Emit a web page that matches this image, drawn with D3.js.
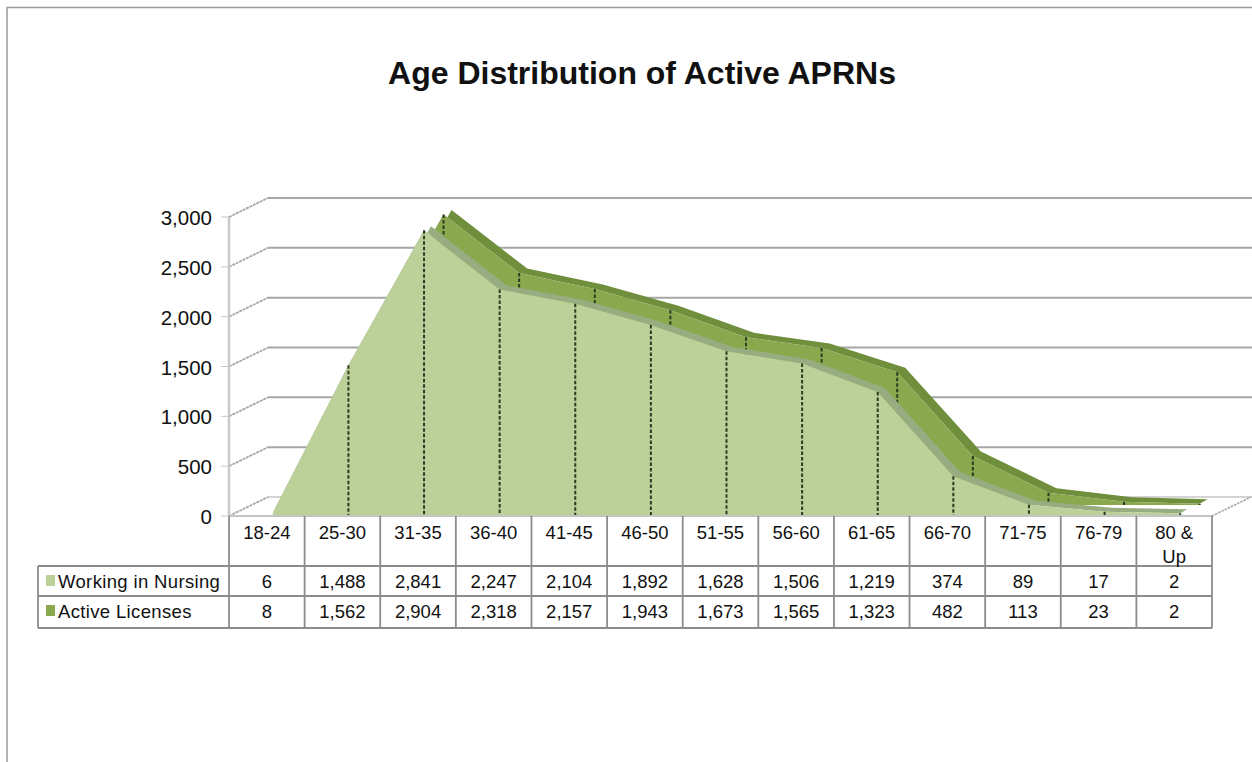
<!DOCTYPE html>
<html>
<head>
<meta charset="utf-8">
<script src="https://cdn.jsdelivr.net/npm/d3@7/dist/d3.min.js"></script>
<style>
html,body{margin:0;padding:0;background:#fff;overflow:hidden}
svg{display:block}
text{font-family:"Liberation Sans",Arial,sans-serif;fill:#111}
</style>
</head>
<body>
<svg id="chart" width="1252" height="762"></svg>
<script>
const categories = ["18-24","25-30","31-35","36-40","41-45","46-50","51-55","56-60","61-65","66-70","71-75","76-79","80 & Up"];
const working = [6,1488,2841,2247,2104,1892,1628,1506,1219,374,89,17,2];
const active = [8,1562,2904,2318,2157,1943,1673,1565,1323,482,113,23,2];
const yTicks = [0,500,1000,1500,2000,2500,3000];
const seriesNames = ["Working in Nursing","Active Licenses"];
const titleText = "Age Distribution of Active APRNs";

const svg = d3.select("#chart");
const gridColor = "#a6a6a6", tableColor = "#8c8c8c", wallColor = "#c8c8c8";
const left = 229, right = 1212, base = 516;
const wallDx = 39, wallDy = -19;

const x = d3.scaleBand().domain(categories).range([left, right]);
const y = d3.scaleLinear().domain([0, 3000]).range([base, 217]);
const cx = c => x(c) + x.bandwidth() / 2;

// frame
svg.append("path").attr("d", "M7,770V7.5H1260").attr("fill", "none").attr("stroke", "#9a9a9a").attr("stroke-width", 1.5);

// title
svg.append("text").attr("x", 642).attr("y", 84).attr("text-anchor", "middle")
  .attr("font-size", 32).attr("font-weight", "bold").text(titleText);

// back wall gridlines and side wall diagonals
yTicks.forEach(t => {
  const yy = y(t);
  svg.append("line").attr("x1", left + wallDx).attr("x2", 1252).attr("y1", yy + wallDy).attr("y2", yy + wallDy)
    .attr("stroke", t === 0 ? "#d4d4d4" : gridColor).attr("stroke-width", 2);
  svg.append("line").attr("x1", left).attr("x2", left + wallDx).attr("y1", yy).attr("y2", yy + wallDy)
    .attr("stroke", gridColor).attr("stroke-width", 1.8).attr("stroke-dasharray", "3,0.8");
  svg.append("line").attr("x1", left - 8).attr("x2", left).attr("y1", yy).attr("y2", yy)
    .attr("stroke", wallColor).attr("stroke-width", 1);
  svg.append("text").attr("x", 212).attr("y", yy + 8).attr("text-anchor", "end")
    .attr("font-size", 20.5).text(d3.format(",")(t));
});
// side wall vertical edge
svg.append("line").attr("x1", left).attr("x2", left).attr("y1", y(3000)).attr("y2", base)
  .attr("stroke", wallColor).attr("stroke-width", 2.5);
// floor right edge
svg.append("line").attr("x1", right).attr("x2", right + wallDx).attr("y1", base).attr("y2", base + wallDy)
  .attr("stroke", gridColor).attr("stroke-width", 1.6).attr("stroke-dasharray", "2.5,1");

// one 3-D ribbon: top band, front face, dashed drop lines
function ribbon(values, o) {
  const pts = categories.map((c, i) => [cx(c) + o.dx, y(values[i]) + o.dy]);
  const line = d3.line();
  const bandPts = pts.concat(pts.slice().reverse().map(p => [p[0] + o.bx, p[1] + o.by]));
  svg.append("path").attr("d", line(bandPts) + "Z").attr("fill", o.top);
  const area = d3.area().x(p => p[0]).y0(o.floor).y1(p => p[1]);
  svg.append("path").attr("d", area(pts)).attr("fill", o.face);
  pts.forEach((p, i) => {
    if (i === 0) return;
    svg.append("line").attr("x1", p[0]).attr("x2", p[0]).attr("y1", p[1]).attr("y2", o.floor)
      .attr("stroke", "#2f3a22").attr("stroke-width", 2).attr("stroke-dasharray", "3.5,2");
  });
}
ribbon(active, {dx: 25.5, dy: -12, bx: 8, by: -4.5, floor: 505, face: "#8aa94f", top: "#6f8f3d"});
ribbon(working, {dx: 6, dy: -2.5, bx: 7, by: -4, floor: 515, face: "#bcd09a", top: "#98ac82"});

// data table
const tableRows = [566, 596, 628];
const tableLeft = 38;
const g = svg.append("g").attr("stroke", tableColor).attr("stroke-width", 1.8);
g.append("line").attr("x1", left).attr("x2", right).attr("y1", base).attr("y2", base).attr("stroke", "#c4c4c4").attr("stroke-width", 2);
tableRows.forEach(r => g.append("line").attr("x1", tableLeft).attr("x2", right).attr("y1", r).attr("y2", r));
g.append("line").attr("x1", tableLeft).attr("x2", tableLeft).attr("y1", tableRows[0]).attr("y2", tableRows[2]);
categories.concat([null]).forEach(c => {
  const xx = c === null ? right : x(c);
  g.append("line").attr("x1", xx).attr("x2", xx).attr("y1", base).attr("y2", tableRows[2]);
});

const fs = 18.5;
const rowBase = [588, 618];
categories.forEach((c, i) => {
  const t = svg.append("text").attr("text-anchor", "middle").attr("font-size", fs);
  if (c === "80 & Up") {
    t.append("tspan").attr("x", cx(c)).attr("y", 539).text("80 &");
    t.append("tspan").attr("x", cx(c)).attr("y", 563).text("Up");
  } else {
    t.attr("x", cx(c)).attr("y", 539).text(c);
  }
  [working, active].forEach((vals, k) => {
    svg.append("text").attr("x", cx(c)).attr("y", rowBase[k]).attr("text-anchor", "middle")
      .attr("font-size", fs).text(d3.format(",")(vals[i]));
  });
});
seriesNames.forEach((n, k) => {
  svg.append("rect").attr("x", 46).attr("y", rowBase[k] - 13).attr("width", 9).attr("height", 11)
    .attr("fill", ["#bcd09a", "#8aa94f"][k]);
  svg.append("text").attr("x", 58).attr("y", rowBase[k]).attr("font-size", fs)
    .attr("letter-spacing", 0.35).text(n);
});
</script>
</body>
</html>
